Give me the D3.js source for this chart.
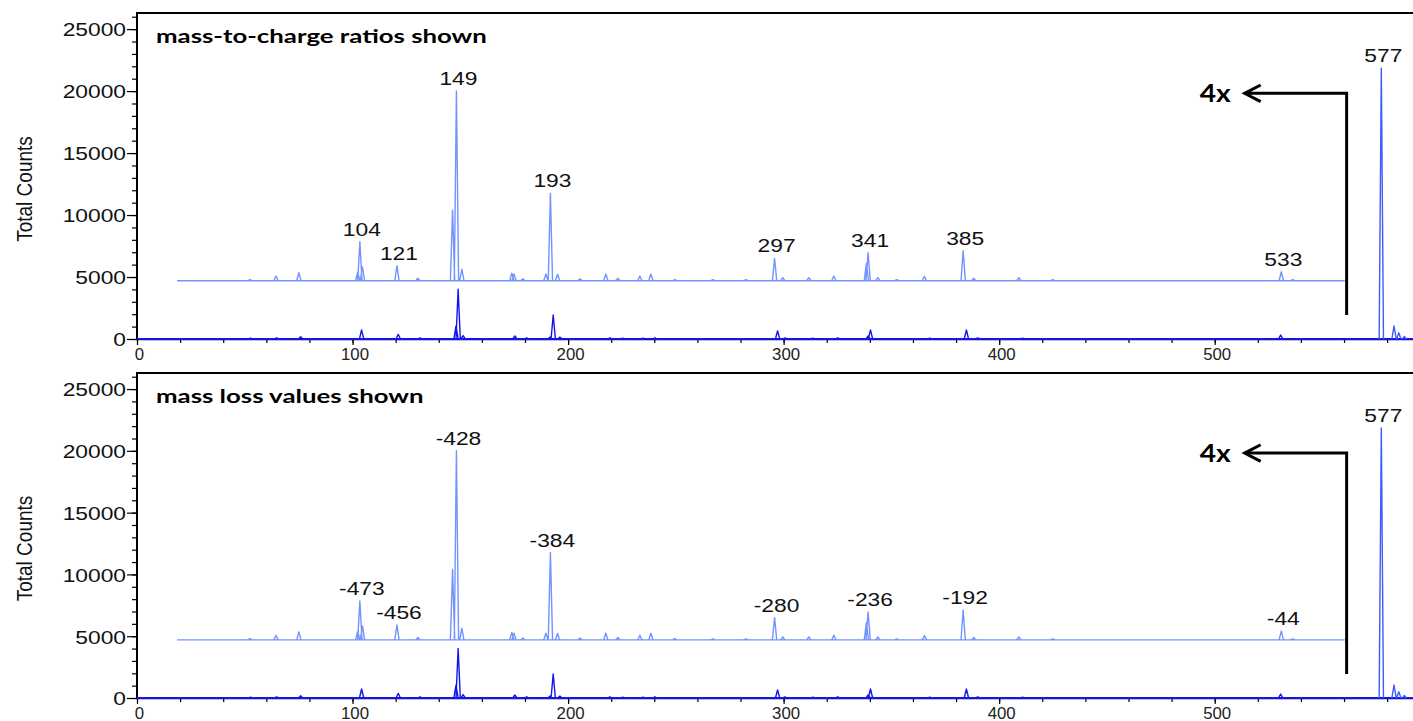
<!DOCTYPE html>
<html><head><meta charset="utf-8">
<script src="https://cdn.jsdelivr.net/npm/d3@7"></script>
<style>body{margin:0;background:#fff} svg{display:block}</style>
</head><body>
<svg id="chart" width="1413" height="721"></svg>
<script>
// ---- data ----
// 4x magnified trace (offset)
const upperMz = [52.4, 64.5, 75.1, 102.4, 103.4, 104.6, 120.6, 130.3, 146.4, 148.2, 150.7, 173.9, 174.9, 179.0, 189.7, 191.8, 195.1, 205.5, 217.5, 223.1, 233.3, 238.4, 249.5, 267.2, 282.5, 295.8, 299.6, 311.7, 323.3, 338.4, 339.2, 343.7, 352.5, 365.3, 383.3, 388.2, 409.1, 424.9, 530.9, 536.2];
const upperCounts = [4800, 5080, 5350, 5400, 7850, 5830, 5910, 4900, 10400, 20020, 5640, 5300, 5250, 4850, 5250, 11750, 5220, 4850, 5240, 4900, 5080, 5240, 4800, 4780, 4780, 6500, 4950, 4950, 5080, 6100, 6960, 4950, 4780, 5050, 7120, 4900, 4950, 4780, 5430, 4780];
const upperBaseline = 4700;
const upperStartMz = 18.6, upperEndMz = 560.3;
// original trace (baseline 0)
const lowerMz = [52.7, 64.8, 75.9, 104.2, 121.2, 131.3, 148.0, 149.0, 151.3, 175.3, 180.8, 191.6, 193.1, 196.2, 219.4, 225.4, 234.7, 240.3, 297.2, 300.6, 313.6, 325.1, 339.2, 340.3, 367.8, 384.8, 390.1, 410.9, 530.6];
const lowerCounts = [60, 80, 190, 730, 380, 100, 1050, 4010, 270, 240, 80, 150, 1940, 150, 80, 60, 60, 100, 650, 80, 60, 80, 250, 730, 60, 730, 80, 60, 320];
// parent ion region (not magnified)
const parentMz = [577.3, 583.2, 585.4, 588.0];
const parentCounts = [21850, 1050, 500, 200];
// labelled peaks
const labelMz = [103.4, 120.6, 148.2, 191.8, 295.8, 339.2, 383.3, 530.9, 577.3];
const labelCounts = [7850, 5910, 20020, 11750, 6500, 6960, 7120, 5430, 21850];
const mzLabels = ["104", "121", "149", "193", "297", "341", "385", "533", "577"];
const lossLabels = ["-473", "-456", "-428", "-384", "-280", "-236", "-192", "-44", "577"];
const panelTitles = ["mass-to-charge ratios shown", "mass loss values shown"];
const yMajorTicks = [0, 5000, 10000, 15000, 20000, 25000];
const xMajorTicks = [0, 100, 200, 300, 400, 500];
const magnifyText = "4x";
const arrowLineMz = 561.2, arrowTipMz = 513.9, arrowTopCounts = 19820, arrowBottomCounts = 1940;
const yAxisTitle = "Total Counts";
const xMaxMz = 592, yMaxCounts = 26300;

// ---- drawing ----
const svg = d3.select("#chart");
const LEFT = 137, RIGHT = 1413;
const panels = [{y0: 339, top: 13, labels: mzLabels}, {y0: 698, top: 373, labels: lossLabels}];
const PEAK_W = 1.0;
const COL_LIGHT = "#7393ff", COL_DARK = "#1414ee", COL_PARENT = "#3d5cff";
const FONT = "Liberation Sans, Arial, sans-serif";

let titleScale = null;

panels.forEach((p, pi) => {
  const g = svg.append("g");
  const x = d3.scaleLinear([0, xMaxMz], [LEFT, RIGHT]);
  const y = d3.scaleLinear([0, yMaxCounts], [p.y0, p.top]);
  const line = d3.line().x(d => x(d[0])).y(d => y(d[1]));

  // axes
  const yMinor = g.append("g").attr("transform", `translate(${LEFT},0)`)
    .call(d3.axisLeft(y).tickValues(d3.range(0, 26001, 1000)).tickSize(5).tickSizeOuter(0).tickFormat(""));
  yMinor.select(".domain").remove();
  yMinor.selectAll("line").attr("stroke", "#000").attr("stroke-width", 1.2);
  const yAx = g.append("g").attr("transform", `translate(${LEFT},0)`)
    .call(d3.axisLeft(y).tickValues(yMajorTicks).tickSize(10).tickSizeOuter(0).tickFormat(d3.format("d")));
  yAx.select(".domain").remove();
  yAx.selectAll("line").attr("stroke", "#000").attr("stroke-width", 1.2);
  yAx.selectAll("text").attr("x", 0).attr("dy", null)
    .attr("transform", "translate(-11,6.8) scale(1.2,1)")
    .attr("font-family", FONT).attr("font-size", 19)
    .attr("fill", "#111").attr("text-anchor", "end");

  const xMinor = g.append("g").attr("transform", `translate(0,${p.y0})`)
    .call(d3.axisBottom(x).tickValues(d3.range(0, 581, 20)).tickSize(4).tickSizeOuter(0).tickFormat(""));
  xMinor.select(".domain").remove();
  xMinor.selectAll("line").attr("stroke", "#000").attr("stroke-width", 1.2);
  const xAx = g.append("g").attr("transform", `translate(0,${p.y0})`)
    .call(d3.axisBottom(x).tickValues(xMajorTicks).tickSize(6).tickSizeOuter(0).tickFormat(d3.format("d")));
  xAx.select(".domain").attr("stroke", "#000").attr("stroke-width", 1.5);
  xAx.selectAll("line").attr("stroke", "#000").attr("stroke-width", 1.2);
  xAx.selectAll("text").attr("y", 0).attr("dy", null)
    .attr("transform", "translate(2,21) scale(1.05,1)")
    .attr("font-family", FONT).attr("font-size", 16)
    .attr("fill", "#222").attr("text-anchor", "middle");

  // frame: left axis line and top border
  g.append("line").attr("x1", LEFT).attr("x2", LEFT).attr("y1", p.top).attr("y2", p.y0)
    .attr("stroke", "#000").attr("stroke-width", 2);
  g.append("line").attr("x1", LEFT - 1).attr("x2", RIGHT).attr("y1", p.top).attr("y2", p.top)
    .attr("stroke", "#000").attr("stroke-width", 2);

  // y axis title
  g.append("text").text(yAxisTitle)
    .attr("transform", `translate(32,${(p.top + p.y0) / 2 + 13}) scale(1.2,1) rotate(-90)`)
    .attr("font-family", FONT).attr("font-size", 19)
    .attr("fill", "#111").attr("text-anchor", "middle");

  // traces
  const peakPaths = (mzs, cs, base) => mzs.map((m, i) =>
    line([[m - PEAK_W, base], [m, cs[i]], [m + PEAK_W, base]])).join("");

  // lower (original) trace
  g.append("path").attr("d", line([[0, 0], [xMaxMz, 0]]))
    .attr("stroke", COL_DARK).attr("stroke-width", 2).attr("fill", "none");
  g.append("path").attr("d", peakPaths(lowerMz, lowerCounts, 0))
    .attr("stroke", COL_DARK).attr("stroke-width", 1.4).attr("fill", "none").attr("stroke-linejoin", "round");
  // parent ion
  g.append("path").attr("d", peakPaths(parentMz, parentCounts, 0))
    .attr("stroke", COL_PARENT).attr("stroke-width", 1.4).attr("fill", "none").attr("stroke-linejoin", "round");
  // magnified trace
  g.append("path").attr("d", line([[upperStartMz, upperBaseline], [upperEndMz, upperBaseline]]) + peakPaths(upperMz, upperCounts, upperBaseline))
    .attr("stroke", COL_LIGHT).attr("stroke-width", 1.4).attr("fill", "none").attr("stroke-linejoin", "round");

  // peak labels
  g.selectAll("text.pk").data(labelMz).join("text").attr("class", "pk")
    .text((d, i) => p.labels[i])
    .attr("transform", (d, i) => `translate(${x(d) + 2},${y(labelCounts[i]) - 6}) scale(1.2,1)`)
    .attr("font-family", FONT).attr("font-size", 19)
    .attr("fill", "#111").attr("text-anchor", "middle");

  // title
  const t = g.append("text").text(panelTitles[pi])
    .attr("font-family", "Lato, sans-serif").attr("font-weight", "bold").attr("font-size", 19)
    .attr("fill", "#000");
  if (titleScale === null) titleScale = 331 / t.node().getComputedTextLength();
  t.attr("transform", `translate(156,${p.top + 30}) scale(${titleScale},1)`);

  // 4x annotation
  const ax = x(arrowLineMz), ayT = y(arrowTopCounts), ayB = y(arrowBottomCounts), tip = x(arrowTipMz);
  g.append("path").attr("d", `M${ax},${ayB}L${ax},${ayT}L${tip},${ayT}`)
    .attr("stroke", "#000").attr("stroke-width", 3).attr("fill", "none");
  g.append("path").attr("d", `M${tip + 16},${ayT - 8.3}L${tip},${ayT}L${tip + 16},${ayT + 8.3}`)
    .attr("stroke", "#000").attr("stroke-width", 3).attr("fill", "none").attr("stroke-linejoin", "miter");
  const m = g.append("text").text(magnifyText)
    .attr("font-family", "Lato, sans-serif").attr("font-weight", "bold").attr("font-size", 24)
    .attr("fill", "#000").attr("text-anchor", "end");
  const ms = 31 / m.node().getComputedTextLength();
  m.attr("transform", `translate(${tip - 14},${ayT + 9}) scale(${ms},1)`);
});
</script>
</body></html>
